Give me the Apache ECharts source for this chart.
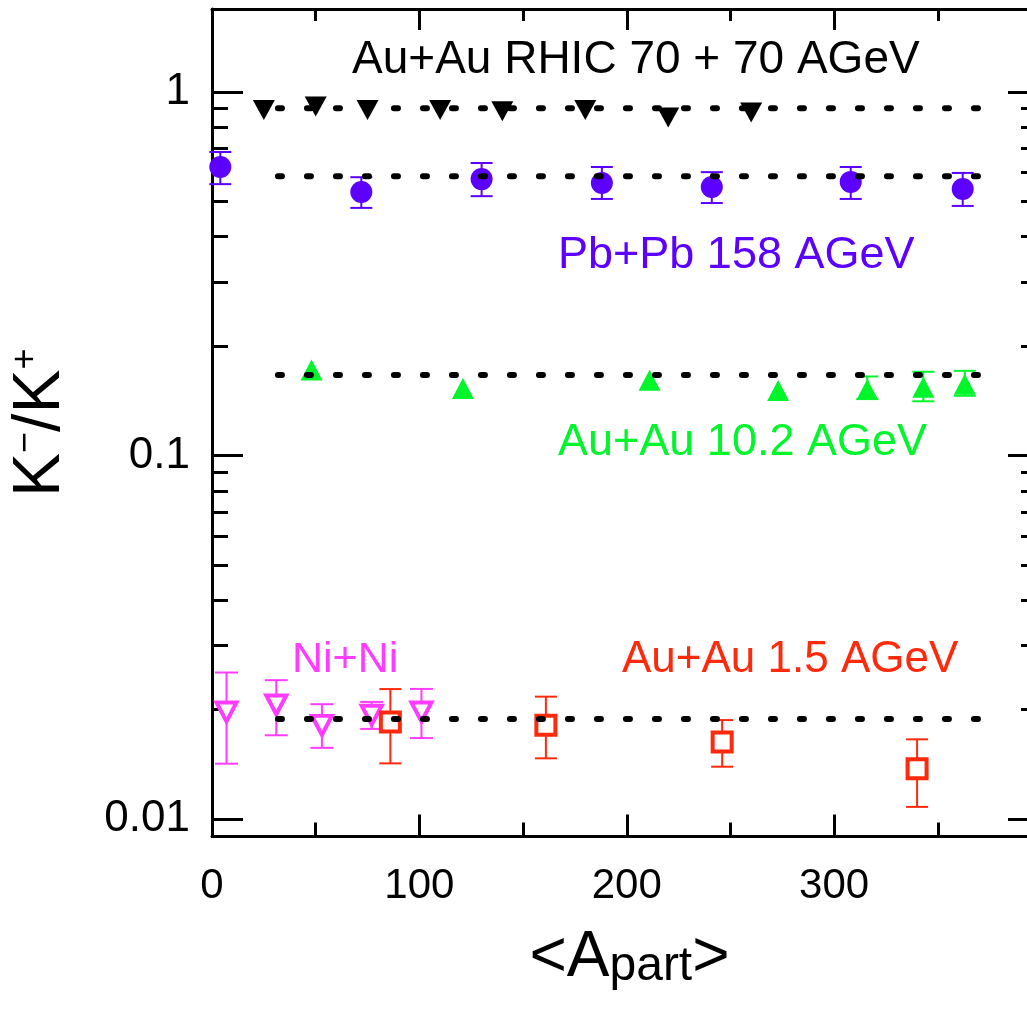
<!DOCTYPE html>
<html>
<head>
<meta charset="utf-8">
<title>K-/K+ vs Apart</title>
<script src="https://cdn.jsdelivr.net/npm/echarts@6/dist/echarts.min.js"></script>
<style>
  html, body { margin: 0; padding: 0; background: #fff; }
  #chart { width: 1027px; height: 1012px; }
</style>
</head>
<body>
<div id="chart"></div>
<script>
// axis ranges and ticks
const xRange = [0, 393];
const yRange = [0.008953, 1.692];
const xMajorTicks = [100, 200, 300];
const xMinorTicks = [50, 150, 250, 350];
const xTickLabels = [0, 100, 200, 300];
const yMajorTicks = [0.01, 0.1, 1];
const yMinorTicks = [0.02, 0.03, 0.04, 0.05, 0.06, 0.07, 0.08, 0.09,
                     0.2, 0.3, 0.4, 0.5, 0.6, 0.7, 0.8, 0.9];

// Au+Au RHIC 70 + 70 AGeV
const rhicX = [25, 50, 75, 110, 140, 180, 220, 260];
const rhicY = [0.892, 0.913, 0.892, 0.892, 0.886, 0.892, 0.851, 0.878];

// Pb+Pb 158 AGeV
const pbX = [4, 72, 130, 188, 241, 308, 362];
const pbY = [0.622, 0.531, 0.576, 0.562, 0.548, 0.566, 0.541];
const pbLo = [0.558, 0.480, 0.517, 0.508, 0.495, 0.508, 0.486];
const pbHi = [0.684, 0.583, 0.638, 0.622, 0.602, 0.622, 0.599];

// Au+Au 10.2 AGeV
const agsX = [48, 121, 211, 273, 316, 343, 363];
const agsY = [0.172, 0.153, 0.161, 0.151, 0.152, 0.154, 0.157];
const agsLo = [null, null, null, null, 0.143, 0.141, 0.146];
const agsHi = [null, null, null, null, 0.165, 0.170, 0.171];

// Ni+Ni
const niX = [7, 31, 53, 77, 101];
const niY = [0.0197, 0.0206, 0.0181, 0.0193, 0.0197];
const niLo = [0.0142, 0.0170, 0.0157, 0.0177, 0.0167];
const niHi = [0.0253, 0.0241, 0.0207, 0.0210, 0.0228];

// Au+Au 1.5 AGeV
const sisX = [86, 161, 246, 340];
const sisY = [0.0185, 0.0181, 0.0163, 0.01375];
const sisLo = [0.01423, 0.01469, 0.01393, 0.0108];
const sisHi = [0.02278, 0.02171, 0.01872, 0.01657];

// dotted average lines
const refLevels = [0.902, 0.587, 0.1665, 0.01884];
const refX = [31.8, 369.6];

const FONT = '"Liberation Sans", Arial, sans-serif';
const C_RHIC = '#000000';
const C_PB = '#5c00ff';
const C_AGS = '#00f52a';
const C_NI = '#ff3cff';
const C_SIS = '#ff2a0c';

const points = (xs, ys) => xs.map((x, i) => [x, ys[i]]);
const errPoints = (xs, lo, hi) =>
  xs.map((x, i) => [x, lo[i], hi[i]]).filter(d => d[1] != null);

function errorBars(name, data, color, capW, lw) {
  return {
    name: name + ' err',
    type: 'custom',
    xAxisIndex: 0, yAxisIndex: 0,
    z: 2, silent: true,
    encode: { x: 0, y: [1, 2] },
    data: data,
    renderItem: (params, api) => {
      const top = api.coord([api.value(0), api.value(2)]);
      const bot = api.coord([api.value(0), api.value(1)]);
      const hw = capW / 2;
      const style = { stroke: color, lineWidth: lw };
      return {
        type: 'group',
        children: [
          { type: 'line', shape: { x1: top[0], y1: top[1], x2: bot[0], y2: bot[1] }, style },
          { type: 'line', shape: { x1: top[0] - hw, y1: top[1], x2: top[0] + hw, y2: top[1] }, style },
          { type: 'line', shape: { x1: bot[0] - hw, y1: bot[1], x2: bot[0] + hw, y2: bot[1] }, style }
        ]
      };
    }
  };
}

function xAxisDef(pos, ticks, len, showLine, labels) {
  return {
    type: 'value', position: pos, min: xRange[0], max: xRange[1],
    axisLine: { show: showLine, onZero: false, lineStyle: { color: '#000', width: 3 } },
    axisTick: { show: true, inside: true, customValues: ticks, length: len,
                lineStyle: { color: '#000', width: 3 } },
    axisLabel: labels ? {
      show: true, customValues: labels, margin: 29,
      fontSize: 42, fontFamily: FONT, color: '#000'
    } : { show: false },
    splitLine: { show: false }
  };
}

function yAxisDef(pos, ticks, len, showLine, labels) {
  return {
    type: 'log', logBase: 10, position: pos, min: yRange[0], max: yRange[1],
    axisLine: { show: showLine, onZero: false, lineStyle: { color: '#000', width: 3 } },
    axisTick: { show: true, inside: true, customValues: ticks, length: len,
                lineStyle: { color: '#000', width: 3 } },
    axisLabel: labels ? {
      show: true, customValues: labels, margin: 22,
      fontSize: 44, fontFamily: FONT, color: '#000',
      formatter: v => String(+Number(v).toPrecision(3))
    } : { show: false },
    splitLine: { show: false }
  };
}

const xMain = xAxisDef('bottom', xMajorTicks, 22, true, xTickLabels);
xMain.name = '{a|<A}{p|part}{a|>}';
xMain.nameLocation = 'middle';
xMain.nameGap = 90;
xMain.nameTextStyle = {
  color: '#000', fontFamily: FONT, padding: [0, 0, 0, 20],
  rich: {
    a: { fontSize: 64, fontFamily: FONT, color: '#000' },
    p: { fontSize: 48, fontFamily: FONT, color: '#000', verticalAlign: 'bottom' }
  }
};

const yMain = yAxisDef('left', yMajorTicks, 31, true, yMajorTicks);
yMain.name = '{k|K}{s|\u2212}{k|/K}{s|+}';
yMain.nameLocation = 'middle';
yMain.nameGap = 138;
yMain.nameTextStyle = {
  color: '#000', fontFamily: FONT,
  rich: {
    k: { fontSize: 66, fontFamily: FONT, color: '#000' },
    s: { fontSize: 36, fontFamily: FONT, color: '#000', verticalAlign: 'top', lineHeight: 28 }
  }
};

const option = {
  animation: false,
  backgroundColor: '#fff',
  grid: { left: 212, right: -2, top: 9, bottom: 175.5, containLabel: false },
  xAxis: [
    xMain,
    xAxisDef('bottom', xMinorTicks, 14, false, null),
    xAxisDef('top', xMajorTicks, 21, true, null),
    xAxisDef('top', xMinorTicks, 12, false, null)
  ],
  yAxis: [
    yMain,
    yAxisDef('left', yMinorTicks, 16, false, null),
    yAxisDef('right', yMajorTicks, 19, false, null),
    yAxisDef('right', yMinorTicks, 6, false, null)
  ],
  graphic: [
    { type: 'text', x: 352, y: 60, z: 10,
      style: { text: 'Au+Au RHIC 70 + 70 AGeV', fill: C_RHIC, fontSize: 46, fontFamily: FONT, verticalAlign: 'middle' } },
    { type: 'text', x: 558, y: 256, z: 10,
      style: { text: 'Pb+Pb 158 AGeV', fill: C_PB, fontSize: 45, fontFamily: FONT, verticalAlign: 'middle' } },
    { type: 'text', x: 558, y: 443, z: 10,
      style: { text: 'Au+Au 10.2 AGeV', fill: C_AGS, fontSize: 45, fontFamily: FONT, verticalAlign: 'middle' } },
    { type: 'text', x: 292, y: 660, z: 10,
      style: { text: 'Ni+Ni', fill: C_NI, fontSize: 43, fontFamily: FONT, verticalAlign: 'middle' } },
    { type: 'text', x: 622, y: 660, z: 10,
      style: { text: 'Au+Au 1.5 AGeV', fill: C_SIS, fontSize: 44, fontFamily: FONT, verticalAlign: 'middle' } }
  ],
  series: [
    errorBars('Pb+Pb', errPoints(pbX, pbLo, pbHi), C_PB, 22, 2),
    errorBars('Au+Au 10.2', errPoints(agsX, agsLo, agsHi), C_AGS, 22, 2),
    errorBars('Ni+Ni', errPoints(niX, niLo, niHi), C_NI, 23, 2),
    errorBars('Au+Au 1.5', errPoints(sisX, sisLo, sisHi), C_SIS, 22, 2),
    {
      name: 'Au+Au RHIC', type: 'scatter', z: 3,
      symbol: 'triangle', symbolRotate: 180, symbolSize: [22, 20],
      itemStyle: { color: C_RHIC, opacity: 1 },
      data: points(rhicX, rhicY)
    },
    {
      name: 'Pb+Pb', type: 'scatter', z: 3,
      symbol: 'circle', symbolSize: 22,
      itemStyle: { color: C_PB, opacity: 1 },
      data: points(pbX, pbY)
    },
    {
      name: 'Au+Au 10.2', type: 'scatter', z: 3,
      symbol: 'triangle', symbolSize: [22, 21],
      itemStyle: { color: C_AGS, opacity: 1 },
      data: points(agsX, agsY)
    },
    {
      name: 'Ni+Ni', type: 'scatter', z: 3,
      symbol: 'triangle', symbolRotate: 180, symbolSize: [20, 19],
      itemStyle: { color: '#fff', borderColor: C_NI, borderWidth: 4, opacity: 1 },
      data: points(niX, niY)
    },
    {
      name: 'Au+Au 1.5', type: 'scatter', z: 3,
      symbol: 'rect', symbolSize: 19,
      itemStyle: { color: '#fff', borderColor: C_SIS, borderWidth: 4, opacity: 1 },
      data: points(sisX, sisY)
    }
  ].concat(refLevels.map((lvl, i) => ({
    name: 'ref' + i, type: 'line', z: 5, silent: true,
    symbol: 'none',
    lineStyle: { color: '#000', width: 6, type: [4, 25], cap: 'round' },
    data: refX.map(x => [x, lvl])
  })))
};

const chart = echarts.init(document.getElementById('chart'), null, { renderer: 'canvas' });
chart.setOption(option);
</script>
</body>
</html>
